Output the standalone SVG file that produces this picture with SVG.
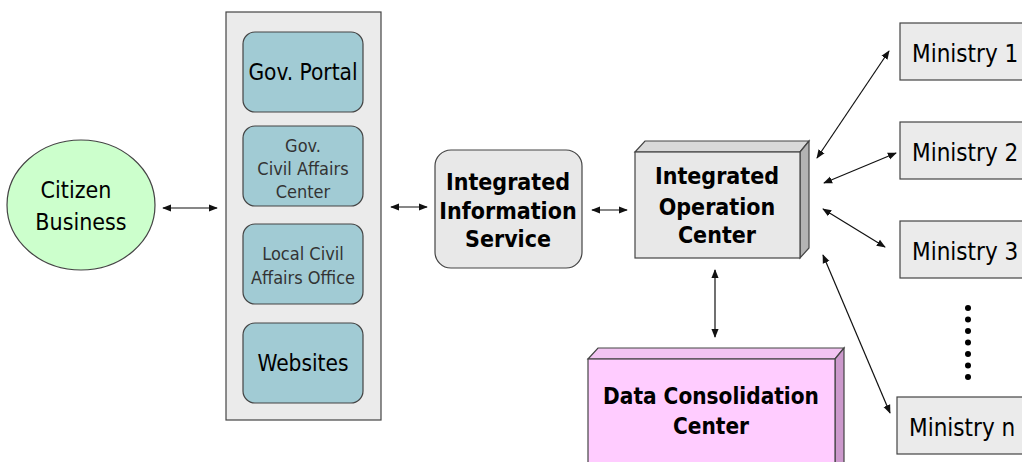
<svg xmlns="http://www.w3.org/2000/svg" width="1022" height="462" viewBox="0 0 1022 462">
<style>
text{font-family:"DejaVu Sans Condensed","DejaVu Sans",sans-serif;text-anchor:middle;fill:#000}
.b{font-weight:bold;font-size:23px}
.d{font-weight:bold;font-size:22.4px}
.sub{fill:#a1cbd4;stroke:#444;stroke-width:1.2}
.gray{fill:#e8e8e8;stroke:#444;stroke-width:1.2}
.min{fill:#ebebeb;stroke:#444;stroke-width:1.2}
.c{stroke:#111;stroke-width:1.2;fill:none;marker-start:url(#ah);marker-end:url(#ah)}
.m{font-size:24px;text-anchor:start}
.s{font-size:18px;fill:#333}
</style>
<defs>
<marker id="ah" viewBox="0 0 10 10" refX="9" refY="5" markerWidth="9" markerHeight="9" markerUnits="userSpaceOnUse" orient="auto-start-reverse">
<path d="M0,1 L10,5 L0,9 z" fill="#111"/>
</marker>
</defs>
<rect width="1022" height="462" fill="#fff"/>

<g id="connectors">
<line class="c" x1="163" y1="208" x2="217" y2="208"/>
<line class="c" x1="391" y1="207" x2="427" y2="207"/>
<line class="c" x1="592" y1="210" x2="627" y2="210"/>
<line class="c" x1="715" y1="270" x2="715" y2="337"/>
<line class="c" x1="817" y1="158" x2="889" y2="51"/>
<line class="c" x1="824" y1="183" x2="896" y2="153"/>
<line class="c" x1="823" y1="209" x2="885" y2="247"/>
<line class="c" x1="823" y1="255" x2="890" y2="413"/>
</g>

<g id="citizen">
<ellipse cx="81" cy="205" rx="74" ry="65" fill="#ccffcc" stroke="#444" stroke-width="1.2"/>
<text x="76" y="198" font-size="23">Citizen</text>
<text x="81" y="230" font-size="23">Business</text>
</g>

<g id="channels">
<rect x="226" y="12" width="155" height="408" fill="#ebebeb" stroke="#444" stroke-width="1.2"/>
</g>
<g id="gov-portal">
<rect class="sub" x="243" y="32" width="120" height="80" rx="12"/>
<text x="303" y="80" font-size="22.5">Gov. Portal</text>
</g>
<g id="gov-civil">
<rect class="sub" x="243" y="126" width="120" height="80" rx="12"/>
<text class="s" x="303" y="152">Gov.</text>
<text class="s" x="303" y="175">Civil Affairs</text>
<text class="s" x="303" y="198">Center</text>
</g>
<g id="local-civil">
<rect class="sub" x="243" y="224" width="120" height="80" rx="12"/>
<text class="s" x="303" y="260">Local Civil</text>
<text class="s" x="303" y="284">Affairs Office</text>
</g>
<g id="websites">
<rect class="sub" x="243" y="323" width="120" height="80" rx="12"/>
<text x="303" y="371" font-size="22.5">Websites</text>
</g>

<g id="iis">
<rect class="gray" x="435" y="150" width="147" height="118" rx="16"/>
<text class="b" x="508" y="190">Integrated</text>
<text class="b" x="508" y="219">Information</text>
<text class="b" x="508" y="247">Service</text>
</g>

<g id="ioc">
<path d="M635,152 L645,141 L809,141 L800,152 z" fill="#d9d9d9" stroke="#444" stroke-width="1.2"/>
<path d="M800,152 L809,141 L809,248 L800,258 z" fill="#b3b3b3" stroke="#444" stroke-width="1.2"/>
<rect class="gray" x="635" y="152" width="165" height="106"/>
<text class="b" x="717" y="184">Integrated</text>
<text class="b" x="717" y="215">Operation</text>
<text class="b" x="717" y="243">Center</text>
</g>

<g id="dcc">
<path d="M588,359 L598,348 L844,348 L835,359 z" fill="#f2c4f2" stroke="#444" stroke-width="1.2"/>
<path d="M835,359 L844,348 L844,470 L835,470 z" fill="#cc99cc" stroke="#444" stroke-width="1.2"/>
<rect x="588" y="359" width="247" height="115" fill="#ffccff" stroke="#444" stroke-width="1.2"/>
<text class="d" x="711" y="404">Data Consolidation</text>
<text class="d" x="711" y="434">Center</text>
</g>

<g id="ministry-1">
<rect class="min" x="900" y="23" width="130" height="57"/>
<text class="m" x="912" y="62">Ministry 1</text>
</g>
<g id="ministry-2">
<rect class="min" x="900" y="122" width="130" height="57"/>
<text class="m" x="912" y="161">Ministry 2</text>
</g>
<g id="ministry-3">
<rect class="min" x="900" y="221" width="130" height="57"/>
<text class="m" x="912" y="260">Ministry 3</text>
</g>
<g id="ellipsis" fill="#000">
<circle cx="968" cy="308" r="3"/>
<circle cx="968" cy="319.5" r="3"/>
<circle cx="968" cy="331" r="3"/>
<circle cx="968" cy="342.5" r="3"/>
<circle cx="968" cy="354" r="3"/>
<circle cx="968" cy="365.5" r="3"/>
<circle cx="968" cy="377" r="3"/>
</g>
<g id="ministry-n">
<rect class="min" x="897" y="397" width="133" height="57"/>
<text class="m" x="909" y="436">Ministry n</text>
</g>
</svg>
